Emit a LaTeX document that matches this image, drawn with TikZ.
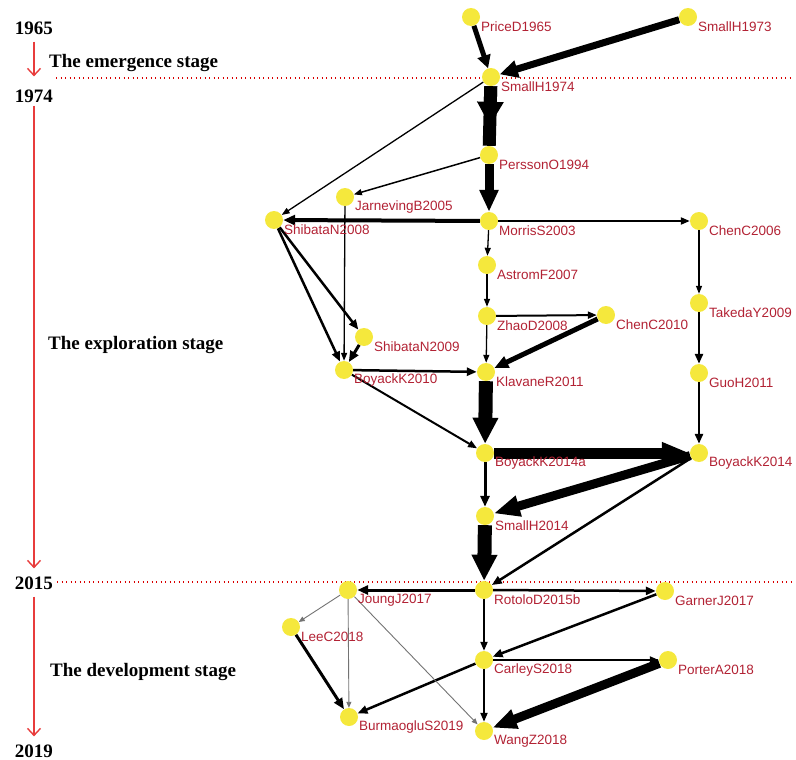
\documentclass[tikz,border=0pt]{standalone}
\usepackage{fontspec}
\setmainfont{Liberation Serif}
\newfontfamily\labfont{Liberation Sans}
\usetikzlibrary{arrows.meta}
\pgfdeclarelayer{bg}
\pgfsetlayers{bg,main}
\definecolor{dotyellow}{RGB}{245,232,60}
\definecolor{labred}{RGB}{178,34,52}
\definecolor{timered}{RGB}{232,60,60}
\newcommand\pn[4]{\node[dot] (#1) at (#2,#3) {}; \node[lbl] (#1-l) at (#2+10,#3+10) {#4};}
\begin{document}
\begin{tikzpicture}[x=1pt,y=-1pt,
 dot/.style={circle,fill=dotyellow,minimum size=18pt,inner sep=0pt},
 lbl/.style={anchor=west,inner sep=0pt,text=labred,font=\labfont\fontsize{13.5}{15}\selectfont},
 stage/.style={anchor=west,inner sep=0pt,font=\bfseries\fontsize{19}{21}\selectfont},
 yr/.style={inner sep=0pt,font=\bfseries\fontsize{19}{21}\selectfont},
 tl/.style={draw=timered,line width=1.4pt,-{Straight Barb[length=7pt,width=13pt]}},
 dotline/.style={draw=red!85!black,line width=1.3pt,dash pattern=on 1.3pt off 3.2pt},
 ed/.style n args={3}{draw=black,line width=#1,-{Triangle[length=#2,width=#3]}},
 ged/.style={draw=black!55,line width=0.9pt,-{Triangle[length=6pt,width=5pt]}},
]
\useasboundingbox (0,0) rectangle (796,760);
% timeline
\node[yr] (y1965) at (34,28) {1965};
\node[yr] (y1974) at (34,96) {1974};
\node[yr] (y2015) at (34,583) {2015};
\node[yr] (y2019) at (34,751) {2019};
\node[stage] (st1) at (49,63) {The emergence stage};
\node[stage] (st2) at (48,345) {The exploration stage};
\node[stage] (st3) at (50,672) {The development stage};
\draw[tl] ([yshift=-7pt]y1965.south) -- ([yshift=13pt]y1974.north);
\draw[tl] ([yshift=-3pt]y1974.south) -- ([yshift=8pt]y2015.north);
\draw[tl] ([yshift=-7pt]y2015.south) -- ([yshift=8pt]y2019.north);
\coordinate (d1a) at (56,78);
\coordinate (d1b) at (792,78);
\coordinate (d2a) at (57,582);
\coordinate (d2b) at (792,582);
% nodes
\pn{pri}{471}{17}{PriceD1965}
\pn{s73}{688}{17}{SmallH1973}
\pn{s74}{491}{77}{SmallH1974}
\pn{per}{489}{155}{PerssonO1994}
\pn{jar}{345}{197}{JarnevingB2005}
\pn{sh08}{274}{220}{ShibataN2008}
\pn{mor}{489}{221}{MorrisS2003}
\pn{ch06}{699}{221}{ChenC2006}
\pn{ast}{487}{265}{AstromF2007}
\pn{zha}{487}{316}{ZhaoD2008}
\pn{ch10}{606}{315}{ChenC2010}
\pn{tak}{699}{303}{TakedaY2009}
\pn{sh09}{364}{337}{ShibataN2009}
\pn{b10}{344}{370}{BoyackK2010}
\pn{kla}{486}{372}{KlavaneR2011}
\pn{guo}{699}{373}{GuoH2011}
\pn{b14a}{485}{453}{BoyackK2014a}
\pn{b14}{699}{453}{BoyackK2014}
\pn{s14}{485}{516}{SmallH2014}
\pn{rot}{484}{590}{RotoloD2015b}
\pn{jou}{348}{590}{JoungJ2017}
\pn{gar}{665}{591}{GarnerJ2017}
\pn{lee}{291}{627}{LeeC2018}
\pn{car}{484}{660}{CarleyS2018}
\pn{por}{668}{660}{PorterA2018}
\pn{bur}{349}{717}{BurmaogluS2019}
\pn{wan}{484}{731}{WangZ2018}
\begin{pgfonlayer}{bg}
\draw[dotline] (d1a) -- (d1b);
\draw[dotline] (d2a) -- (d2b);
\draw[ed={5pt}{13pt}{13pt}] (pri) -- (s74);
\draw[ed={7pt}{18pt}{17pt}] (s73) -- (s74);
\draw[line width=13pt] (s74) -- (per);
\draw[ed={13pt}{24pt}{25pt},shorten >=20pt] (s74) -- (per);
\draw[ed={1.3pt}{8pt}{6pt}] (s74) -- (sh08);
\draw[ed={9pt}{22pt}{18pt}] (per) -- (mor);
\draw[ed={1.5pt}{8pt}{6pt}] (per) -- (jar);
\draw[ed={4pt}{12pt}{10pt}] (mor) -- (sh08);
\draw[ed={2pt}{9pt}{7pt}] (mor) -- (ch06);
\draw[ed={1.3pt}{8pt}{6pt}] (mor) -- (ast);
\draw[ed={1.3pt}{8pt}{6pt}] (ast) -- (zha);
\draw[ed={2pt}{9pt}{7pt}] (zha) -- (ch10);
\draw[ed={5pt}{14pt}{12pt}] (ch10) -- (kla);
\draw[ed={1.3pt}{8pt}{6pt}] (zha) -- (kla);
\draw[ed={1.3pt}{8pt}{6pt}] (jar) -- (b10);
\draw[ed={2.5pt}{10pt}{8pt}] (sh08) -- (sh09);
\draw[ed={2.5pt}{10pt}{8pt}] (sh08) -- (b10);
\draw[ed={3pt}{11pt}{9pt}] (sh09) -- (b10);
\draw[ed={2.5pt}{10pt}{8pt}] (b10) -- (kla);
\draw[ed={2pt}{9pt}{7pt}] (b10) -- (b14a);
\draw[ed={14pt}{26pt}{24pt}] (kla) -- (b14a);
\draw[ed={1.3pt}{8pt}{6pt}] (ch06) -- (tak);
\draw[ed={2.5pt}{10pt}{8pt}] (tak) -- (guo);
\draw[ed={2.5pt}{10pt}{8pt}] (guo) -- (b14);
\draw[ed={11pt}{28pt}{20pt}] (b14a) -- (b14);
\draw[ed={9pt}{26pt}{20pt}] (b14) -- (s14);
\draw[ed={2.5pt}{10pt}{8pt}] (b14) -- (rot);
\draw[ed={3pt}{11pt}{9pt}] (b14a) -- (s14);
\draw[ed={14pt}{26pt}{24pt}] (s14) -- (rot);
\draw[ed={3pt}{11pt}{9pt}] (rot) -- (jou);
\draw[ed={2.5pt}{10pt}{8pt}] (rot) -- (gar);
\draw[ed={2pt}{9pt}{7pt}] (rot) -- (car);
\draw[ed={2.5pt}{10pt}{8pt}] (gar) -- (car);
\draw[ed={2pt}{9pt}{7pt}] (car) -- (por);
\draw[ed={9pt}{24pt}{19pt}] (por) -- (wan);
\draw[ed={2pt}{9pt}{7pt}] (car) -- (wan);
\draw[ed={2.5pt}{10pt}{8pt}] (car) -- (bur);
\draw[ged] (jou) -- (lee);
\draw[ged] (jou) -- (bur);
\draw[ged] (jou) -- (wan);
\draw[ed={3pt}{11pt}{9pt}] (lee) -- (bur);
\end{pgfonlayer}
\end{tikzpicture}
\end{document}
